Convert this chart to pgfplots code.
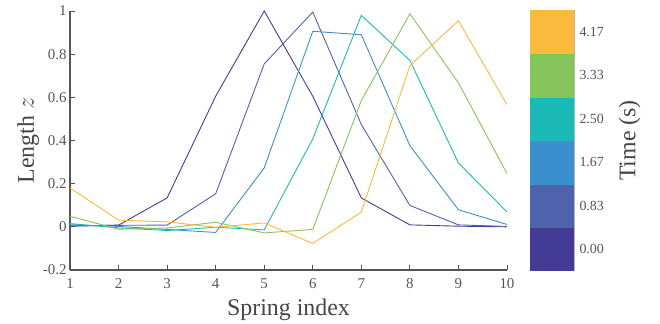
\documentclass[border=0pt]{standalone}
\usepackage{pgfplots}
\pgfplotsset{compat=1.18}
\usepackage{fontspec}
\setmainfont{Liberation Serif}
\definecolor{c0}{RGB}{67,59,149}
\definecolor{c1}{RGB}{79,99,173}
\definecolor{c2}{RGB}{60,143,205}
\definecolor{c3}{RGB}{28,186,182}
\definecolor{c4}{RGB}{134,196,92}
\definecolor{c5}{RGB}{251,185,61}
\definecolor{tickgray}{RGB}{85,85,85}
\definecolor{labgray}{RGB}{70,70,70}
\begin{document}
\begin{tikzpicture}
\useasboundingbox (-70bp,-54bp) rectangle (590bp,270bp);
\begin{axis}[
  scale only axis,
  width=437bp, height=259bp,
  xmin=1, xmax=10, ymin=-0.2, ymax=1,
  axis x line*=bottom, axis y line*=left,
  axis line style={draw=tickgray, line width=1.1pt, -},
  xtick={1,...,10},
  ytick={-0.2,0,0.2,0.4,0.6,0.8,1},
  yticklabels={-0.2,0,0.2,0.4,0.6,0.8,1},
  tick align=inside,
  major tick length=5bp,
  tick style={draw=tickgray, line width=0.8pt},
  /pgf/number format/assume math mode=true,
  tick label style={font=\fontsize{15}{15}\selectfont, text=tickgray},
  xticklabel style={yshift=-5bp},
  xlabel={Spring index},
  ylabel={Length $z$},
  label style={font=\fontsize{24}{24}\selectfont, text=labgray},
  xlabel style={yshift=-3bp},
  ylabel style={yshift=-3bp},
  colormap={disc}{rgb255=(67,59,149) rgb255=(79,99,173) rgb255=(60,143,205) rgb255=(28,186,182) rgb255=(134,196,92) rgb255=(251,185,61)},
  colormap access=piecewise constant,
  point meta min=-0.416667, point meta max=4.583333,
  colorbar,
  colorbar style={
    at={(parent axis.north east)}, anchor=north west, xshift=14.5bp,
    width=44bp, height=261bp, yshift=1bp,
    ytick={0,0.833333,1.666667,2.5,3.333333,4.166667},
    yticklabels={0.00,0.83,1.67,2.50,3.33,4.17},
    yticklabel pos=right,
    axis x line=none,
    axis y line*=right,
    axis line style={-, draw=gray!60, line width=0.5pt},
    tick style={draw=none},
    yticklabel style={font=\fontsize{14}{14}\selectfont, text=tickgray, xshift=2bp},
    ylabel={Time (s)},
    ylabel style={font=\fontsize{24}{24}\selectfont, text=labgray, yshift=-8bp},
  },
  every axis plot/.append style={line width=0.9pt, no markers},
]
\addplot[c0] coordinates {(1,0.003) (2,0.008) (3,0.134) (4,0.605) (5,1.0) (6,0.605) (7,0.134) (8,0.009) (9,0.003) (10,0.0)};
\addplot[c1] coordinates {(1,0.005) (2,0.007) (3,0.008) (4,0.153) (5,0.755) (6,0.995) (7,0.474) (8,0.099) (9,0.009) (10,0.002)};
\addplot[c2] coordinates {(1,0.010) (2,0.002) (3,-0.012) (4,-0.026) (5,0.273) (6,0.906) (7,0.890) (8,0.376) (9,0.079) (10,0.011)};
\addplot[c3] coordinates {(1,0.015) (2,-0.005) (3,-0.017) (4,-0.002) (5,-0.014) (6,0.407) (7,0.980) (8,0.771) (9,0.296) (10,0.069)};
\addplot[c4] coordinates {(1,0.049) (2,-0.011) (3,-0.005) (4,0.021) (5,-0.028) (6,-0.012) (7,0.585) (8,0.987) (9,0.667) (10,0.247)};
\addplot[c5] coordinates {(1,0.180) (2,0.031) (3,0.023) (4,-0.002) (5,0.018) (6,-0.077) (7,0.068) (8,0.747) (9,0.955) (10,0.566)};
\end{axis}
\end{tikzpicture}
\end{document}
